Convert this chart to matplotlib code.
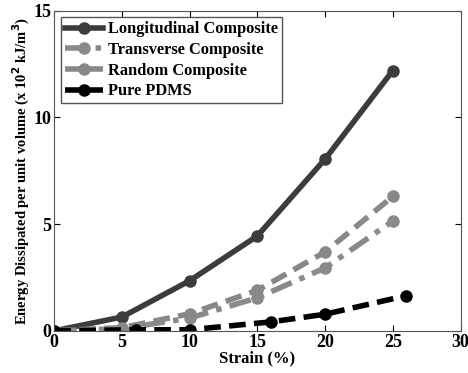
import matplotlib.pyplot as plt
import numpy as np

strain = [0, 5, 10, 15, 20, 25]
longitudinal = [0, 0.65, 2.35, 4.45, 8.05, 12.2]
transverse = [0, 0.1, 0.6, 1.55, 2.95, 5.15]
random_comp = [0, 0.15, 0.8, 1.9, 3.7, 6.3]
pdms_strain = [0, 6, 10, 16, 20, 26]
pdms = [0, 0.05, 0.05, 0.42, 0.78, 1.65]

plt.rcParams['font.family'] = ['Liberation Serif', 'DejaVu Serif']
plt.rcParams['font.weight'] = 'bold'

fig = plt.figure(figsize=(4.68, 3.73), dpi=100)
ax = fig.add_axes([0.116, 0.113, 0.868, 0.858])

ax.plot(strain, longitudinal, '-o', color='#3c3c3c', lw=4, ms=8,
        label='Longitudinal Composite')
ax.plot(strain, transverse, '-.o', color='#8a8a8a', lw=4, ms=8,
        dashes=(4, 1.5, 1, 1.5), label='Transverse Composite')
ax.plot(strain, random_comp, '--o', color='#888888', lw=4, ms=8,
        dashes=(3, 1.5), label='Random Composite')
ax.plot(pdms_strain, pdms, '--o', color='black', lw=4, ms=8,
        dashes=(3, 1.5), label='Pure PDMS')

ax.set_xlim(0, 30)
ax.set_ylim(0, 15)
ax.set_xticks(range(0, 31, 5))
ax.set_yticks([0, 5, 10, 15])
ax.tick_params(direction='in', top=True, right=True, labelsize=13, length=4, pad=2)
for s in ax.spines.values():
    s.set_color('#555555')

ax.set_xlabel('Strain (%)', fontsize=12, fontweight='bold', labelpad=0)
ax.set_ylabel(r'Energy Dissipated per unit volume (x 10$^{\mathbf{2}}$ kJ/m$^{\mathbf{3}}$)',
              fontsize=10.5, fontweight='bold', labelpad=1)

leg = ax.legend(loc='upper left', fontsize=11.8, handlelength=2.3, borderpad=0.25,
                labelspacing=0.28, handletextpad=0.3, fancybox=False,
                framealpha=1, borderaxespad=0.4)
leg.get_frame().set_edgecolor('#555555')

fig.savefig('out.png', dpi=100)
